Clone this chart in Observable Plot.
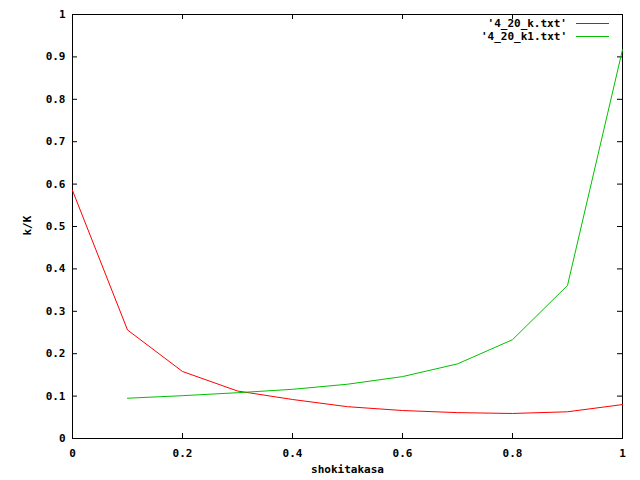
<!DOCTYPE html>
<html>
<head>
<meta charset="utf-8">
<script src="https://cdn.jsdelivr.net/npm/d3@7"></script>
<script src="https://cdn.jsdelivr.net/npm/@observablehq/plot@0.6"></script>
<style>
  html, body { margin: 0; padding: 0; background: #fff; }
  #chart { width: 640px; height: 480px; }
</style>
</head>
<body>
<div id="chart"></div>
<script>
const xValues = [0, 0.1, 0.2, 0.3, 0.4, 0.5, 0.6, 0.7, 0.8, 0.9, 1.0];
const kValues = [0.585, 0.256, 0.158, 0.112, 0.092, 0.075, 0.066, 0.061, 0.059, 0.063, 0.080];
const k1X = [0.1, 0.2, 0.3, 0.4, 0.5, 0.6, 0.7, 0.8, 0.9, 1.0];
const k1Values = [0.095, 0.101, 0.108, 0.116, 0.128, 0.146, 0.176, 0.233, 0.361, 0.917];
const xTicks = [0, 0.2, 0.4, 0.6, 0.8, 1];
const yTicks = [0, 0.1, 0.2, 0.3, 0.4, 0.5, 0.6, 0.7, 0.8, 0.9, 1];
const seriesNames = ["'4_20_k.txt'", "'4_20_k1.txt'"];
const seriesColors = ["#ff0000", "#00c000"];
const xLabel = "shokitakasa";
const yLabel = "k/K";

const kData = xValues.map((x, i) => ({x, y: kValues[i]}));
const k1Data = k1X.map((x, i) => ({x, y: k1Values[i]}));
const fmt = d => String(d);
const font = "'DejaVu Sans Mono', monospace";
const W = 640, H = 480, mL = 72, mR = 18, mT = 14, mB = 42;
const tick = 5;
const innerW = W - mL - mR, innerH = H - mT - mB;

const plot = Plot.plot({
  width: W,
  height: H,
  marginLeft: mL,
  marginRight: mR,
  marginTop: mT,
  marginBottom: mB,
  style: {fontFamily: font, fontSize: "11px", fontWeight: "bold", background: "#fff", color: "#000"},
  x: {domain: [0, 1]},
  y: {domain: [0, 1]},
  marks: [
    Plot.axisX({ticks: xTicks, tickFormat: fmt, tickSize: 0, tickPadding: 11, label: null}),
    Plot.axisY({ticks: yTicks, tickFormat: fmt, tickSize: 0, tickPadding: 7, label: null}),
    // inward ticks on all four sides
    Plot.ruleX(xTicks, {x: d => d, insetTop: innerH - tick, stroke: "#000"}),
    Plot.ruleX(xTicks, {x: d => d, insetBottom: innerH - tick, stroke: "#000"}),
    Plot.ruleY(yTicks, {y: d => d, insetRight: innerW - tick, stroke: "#000"}),
    Plot.ruleY(yTicks, {y: d => d, insetLeft: innerW - tick, stroke: "#000"}),
    Plot.frame({stroke: "#000", strokeWidth: 1}),
    Plot.line(kData, {x: "x", y: "y", stroke: seriesColors[0], strokeWidth: 1}),
    Plot.line(k1Data, {x: "x", y: "y", stroke: seriesColors[1], strokeWidth: 1}),
    Plot.text([xLabel], {frameAnchor: "bottom", dy: 34, text: d => d, fontWeight: "bold"}),
    Plot.text([yLabel], {frameAnchor: "left", dx: -45, dy: 9, rotate: -90, text: d => d, fontWeight: "bold"})
  ]
});
document.getElementById("chart").appendChild(plot);

// legend inside the top-right corner
const svg = d3.select(plot);
const legend = svg.append("g");
seriesNames.forEach((name, i) => {
  const y = 23 + i * 13;
  legend.append("text").attr("x", 567).attr("y", y).attr("dy", "0.35em")
    .attr("text-anchor", "end")
    .attr("style", `fill:#000;font-family:${font};font-size:11px;font-weight:bold`)
    .text(name);
  legend.append("path").attr("d", `M576,${y + 0.5}H609`)
    .attr("style", `fill:none;stroke:${seriesColors[i]};stroke-width:1`);
});
</script>
</body>
</html>
